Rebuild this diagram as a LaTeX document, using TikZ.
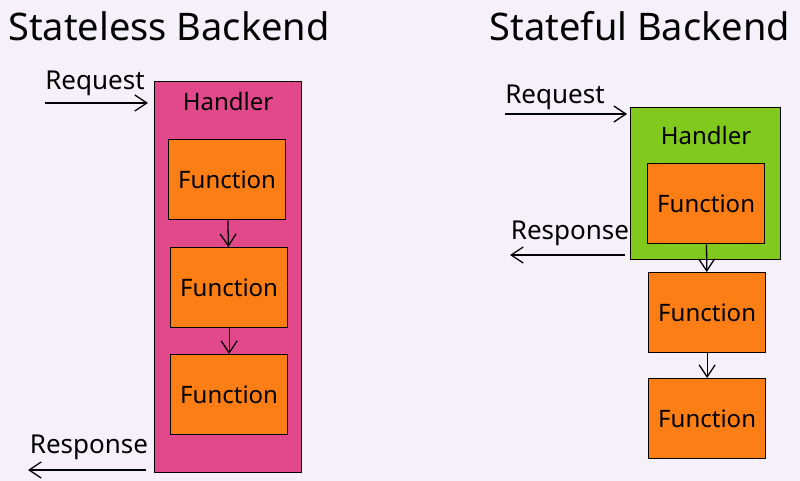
\documentclass[tikz,border=0pt]{standalone}
\usepackage{fontspec}
\setmainfont{Noto Sans}
\usetikzlibrary{arrows.meta}
\definecolor{bgcol}{HTML}{F5F0FA}
\definecolor{handlerpink}{HTML}{E2498A}
\definecolor{handlergreen}{HTML}{82C91E}
\definecolor{funcorange}{HTML}{FD7E14}

\begin{document}
\begin{tikzpicture}[
		x=1pt, y=-1pt,
		box/.style={rectangle, draw, line width=1.3pt, inner sep=0pt, anchor=north west},
		func/.style={box, fill=funcorange, minimum width=117pt, minimum height=80pt, font=\fontsize{24}{28}\selectfont},
		word/.style={font=\fontsize{24}{28}\selectfont, inner sep=0pt},
		bigword/.style={font=\fontsize{26}{30}\selectfont, inner sep=0pt},
		title/.style={font=\fontsize{38}{42}\selectfont, inner sep=0pt},
		flow/.style={-{Straight Barb[length=12pt, width=16pt]}, line width=1.3pt}
	]
  \useasboundingbox (0,0) rectangle (800,481);
  \fill[bgcol] (0,0) rectangle (800,481);
  % stateless side
  \node (title_l) [title] at (169,26) {Stateless Backend};
  \node (lhandler) [box, fill=handlerpink, minimum width=147pt, minimum height=391pt] at (154,81) {};
  \node (lhandler_label) [word] at (228,102) {Handler};
  \node (lf1) [func] at (168,139) {Function};
  \node (lf2) [func] at (170,247) {Function};
  \node (lf3) [func] at (170,354) {Function};
  \node (lreq) [bigword] at (95,83) {Request};
  \node (lresp) [bigword] at (89,447) {Response};
  \coordinate (lreq_from) at (45,103);
  \coordinate (lresp_to) at (28,470);
  \draw[flow] (lreq_from) -- (lhandler.west |- lreq_from) [shorten >=6pt];
  \draw[flow] (lhandler.west |- lresp_to) -- (lresp_to) [shorten <=8pt];
  \draw[flow] (lf1) -- (lf2);
  \draw[flow] (lf2) -- (lf3);
  % stateful side
  \node (title_r) [title] at (640,26) {Stateful Backend};
  \node (rhandler) [box, fill=handlergreen, minimum width=150pt, minimum height=152pt] at (630,107) {};
  \node (rhandler_label) [word] at (706,136) {Handler};
  \node (rf1) [func] at (647,163) {Function};
  \node (rf2) [func] at (648,272) {Function};
  \node (rf3) [func] at (648,378) {Function};
  \node (rreq) [bigword] at (555,97) {Request};
  \node (rresp) [bigword] at (570,233) {Response};
  \coordinate (rreq_from) at (505,114);
  \coordinate (rresp_to) at (510,255);
  \draw[flow] (rreq_from) -- (rhandler.west |- rreq_from) [shorten >=3pt];
  \draw[flow] (rhandler.west |- rresp_to) -- (rresp_to) [shorten <=5pt];
  \draw[flow] (rf1) -- (rf2);
  \draw[flow] (rf2) -- (rf3);
\end{tikzpicture}
\end{document}
